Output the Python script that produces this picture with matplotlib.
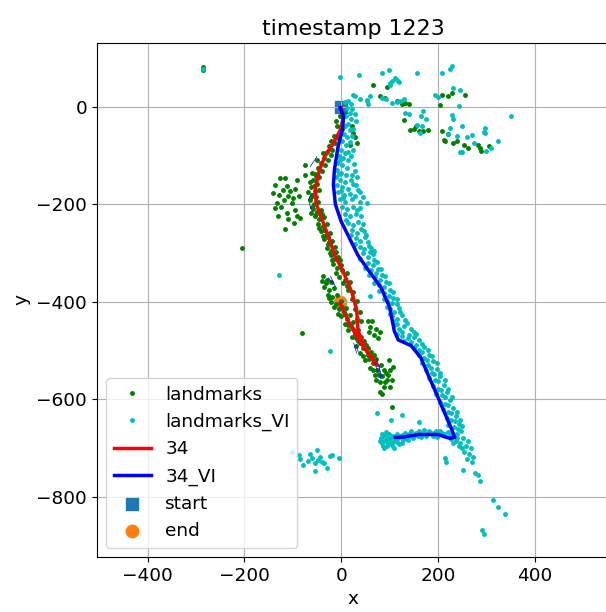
import numpy as np
import matplotlib
matplotlib.use("Agg")
import matplotlib.pyplot as plt

plt.rcParams['font.size'] = 13.3

# trajectory "34" (x, y)
traj = [(0, -2), (4, -25), (-2, -48), (-18, -78), (-33, -100), (-45, -130), (-53, -165),
        (-52, -198), (-40, -230), (-25, -270), (-13, -305), (5, -340), (22, -380), (32, -416),
        (35, -460), (50, -495), (74, -530), (55, -505), (35, -475), (15, -440), (-2, -403)]

# trajectory "34_VI"
traj_vi = [(-2, -2), (5, -20), (3, -45), (-7, -85), (-14, -130), (-16, -160), (-12, -200),
           (0, -235), (15, -265), (35, -305), (60, -340), (82, -370), (100, -410), (110, -460),
           (118, -478), (145, -490), (165, -515), (180, -550), (200, -595), (215, -630),
           (228, -660), (235, -678), (225, -680), (200, -672), (160, -672), (130, -677), (112, -678)]

# landmarks (green)
landmarks = [
    (-286, 81), (-285, 76), (-205, -290), (-81, -464), (106, -616),
    # left cluster
    (-137, -160), (-126, -146), (-116, -146), (-112, -163), (-92, -150), (-140, -177),
    (-128, -180), (-109, -184), (-100, -188), (-88, -184), (-133, -198), (-137, -208),
    (-102, -198), (-95, -211), (-112, -218), (-92, -225), (-85, -228), (-116, -250),
    (-74, -140), (-74, -119), (-120, -170), (-124, -205), (-105, -172), (-96, -168),
    (-118, -192), (-110, -230), (-98, -238), (-130, -225),
    # along the red path
    (-3, -20), (6, -15), (-8, -40), (2, -45), (-14, -60), (-6, -65), (-25, -80), (-18, -88),
    (-30, -92), (-35, -105), (-28, -110), (-42, -115), (-48, -125), (-40, -132), (-55, -138),
    (-46, -145), (-58, -150), (-50, -158), (-62, -165), (-55, -172), (-45, -170), (-60, -180),
    (-52, -186), (-65, -192), (-56, -200), (-47, -195), (-58, -210), (-50, -215), (-42, -212),
    (-55, -225), (-45, -230), (-36, -226), (-48, -240), (-38, -245), (-30, -240), (-42, -255),
    (-32, -262), (-24, -258), (-35, -272), (-26, -278), (-18, -275), (-30, -290), (-20, -295),
    (-12, -288), (-22, -305), (-14, -312), (-6, -308), (-16, -322), (-8, -330), (0, -325),
    (22, -40), (25, -54), (32, -74), (19, -78), (28, -62),
    (-37, -348), (-30, -355), (-22, -360), (-35, -370), (-25, -375), (-15, -372), (-28, -385),
    (-18, -390), (-8, -385), (-20, -400), (-10, -405), (0, -398), (-5, -415), (5, -420),
    (10, -412), (0, -430), (12, -435), (18, -428), (8, -445), (20, -450), (25, -442),
    (15, -458), (28, -465), (35, -458), (22, -472), (35, -480), (42, -472), (30, -490),
    (45, -495), (52, -488), (40, -505), (55, -510), (62, -502), (50, -520), (65, -525),
    (72, -518), (60, -535), (75, -540), (82, -530), (70, -550), (85, -552), (92, -545),
    (80, -565), (95, -560), (101, -539), (88, -575), (81, -584), (105, -560), (108, -533),
    (98, -520), (2, -335), (12, -340), (8, -355), (18, -360), (15, -375), (25, -380),
    (22, -395), (32, -398), (28, -415), (38, -420), (33, -435), (42, -440),
    (55, -440), (64, -440), (60, -452), (72, -455), (81, -461), (68, -468), (76, -475), (58, -462),
    (-10, -30), (-2, -55), (-22, -70), (-12, -75), (-38, -95), (-22, -98), (-50, -110),
    (-33, -120), (-60, -135), (-52, -142), (-65, -155), (-57, -162), (-68, -175), (-63, -185),
    (-60, -205), (-52, -220), (-62, -218), (-40, -220), (-45, -248), (-36, -252), (-38, -265),
    (-28, -268), (-28, -282), (-24, -300), (-10, -298), (-18, -315), (-2, -315), (-10, -340),
    (-4, -350), (4, -362), (12, -368), (-32, -362), (-40, -358), (-26, -392), (-14, -410),
    (2, -410), (8, -425), (-6, -425), (14, -448), (24, -455), (30, -475), (40, -485),
    (48, -480), (56, -495), (46, -512), (58, -518), (68, -510), (66, -540), (78, -550),
    (88, -540), (72, -560), (90, -565), (96, -550), (85, -588), (100, -575),
    # upper right
    (81, 21), (90, 18), (132, 8), (115, 11), (125, 6), (140, 5), (143, -47), (129, -27),
    (150, -45), (160, -50), (170, -50), (180, -48), (155, -40), (208, 25), (220, 22),
    (230, 28), (256, 25), (205, 4), (208, -50), (222, -55), (215, -71), (232, -75), (240, -70),
    (255, -78), (262, -85), (284, -78), (290, -90), (305, -81), (288, -85), (212, -68),
    (95, 40), (65, 45),
]

# landmarks_VI (cyan)
landmarks_vi = [
    (-286, 78), (-128, -345), (-24, -500), (-2, 60), (37, 66), (84, 69), (99, 76), (101, 45),
    (106, 52),
    # upper right
    (29, 21), (40, 15), (53, 14), (60, 22), (55, 5), (112, 59), (115, 55), (100, 48), (120, 50),
    (157, 69), (208, 69), (229, 83), (225, 78), (84, 18), (92, 15), (53, 11), (105, 8),
    (115, 10), (122, 12), (130, 15), (194, 25), (200, 20), (232, 38), (245, 35), (243, 1),
    (132, -13), (140, -15), (170, -9), (165, -20), (175, -25), (157, -37), (168, -40),
    (163, -54), (229, -16), (232, -25), (225, -44), (250, -40), (220, -55), (239, -61),
    (260, -62), (270, -57), (298, -44), (296, -52), (249, -93), (275, -75), (246, -92),
    (298, -54), (300, -90), (310, -85), (325, -70), (352, -20),
    # along the blue path
    (8, 10), (15, 12), (20, 5), (12, -3), (22, -5), (25, 25), (18, -12), (10, -20), (20, -25),
    (14, -35), (8, -40), (18, -48), (5, -55), (12, -62), (2, -70), (10, -78), (0, -88),
    (8, -95), (-5, -100), (4, -105), (15, -110), (-6, -115), (2, -120), (12, -125), (-8, -130),
    (0, -135), (10, -140), (-10, -145), (-2, -150), (8, -155), (20, -150), (-8, -160),
    (2, -165), (14, -168), (30, -160), (-6, -175), (5, -180), (18, -178), (40, -175),
    (-3, -190), (8, -195), (22, -190), (45, -185), (2, -205), (12, -210), (25, -205),
    (53, -198), (8, -220), (18, -225), (30, -220), (15, -238), (25, -242), (35, -236),
    (22, -252), (32, -258), (42, -250), (30, -270), (40, -275), (50, -268), (38, -288),
    (48, -292), (58, -285), (45, -300), (55, -308), (65, -302), (55, -320), (65, -325),
    (75, -318), (62, -335), (72, -340), (82, -332), (70, -350), (80, -356), (90, -348),
    (78, -365), (88, -370), (98, -362), (60, -389), (88, -382), (98, -388), (108, -380),
    (95, -398), (105, -402), (115, -395), (100, -415), (110, -420), (120, -412), (105, -430),
    (115, -436), (125, -428), (136, -444), (110, -448), (120, -455), (130, -450), (145, -455),
    (115, -465), (125, -470), (140, -468), (155, -466), (130, -480), (145, -482), (160, -478),
    (150, -495), (162, -498), (172, -492), (160, -510), (172, -515), (182, -508), (168, -525),
    (180, -530), (190, -522), (175, -540), (188, -545), (198, -538), (182, -556), (194, -560),
    (205, -552), (190, -572), (200, -578), (212, -570), (196, -588), (208, -592), (218, -585),
    (205, -605), (215, -610), (225, -602), (210, -620), (222, -625), (232, -618), (218, -638),
    (228, -642), (238, -635), (222, -652), (234, -656), (244, -650), (228, -668), (240, -672),
    (248, -665),
    (28, -15), (30, -30), (25, -45), (22, -60), (18, -72), (24, -88), (15, -92), (20, -100),
    (26, -118), (28, -132), (22, -140), (32, -145), (25, -158), (35, -170), (28, -182),
    (38, -195), (32, -212), (42, -225), (40, -208), (45, -240), (48, -255), (52, -262),
    (55, -278), (62, -290), (68, -296), (-2, -110), (-4, -138), (0, -172), (4, -188),
    (10, -232), (20, -262), (28, -282), (40, -312), (50, -330), (58, -345), (68, -362),
    (78, -378), (88, -395), (95, -410), (102, -425), (108, -440), (116, -445), (126, -462),
    (138, -475), (150, -472), (155, -488), (168, -502), (178, -520), (185, -535), (192, -548),
    (200, -562), (207, -580), (215, -595), (222, -612), (228, -628), (236, -645), (242, -660),
    (250, -655), (245, -642), (240, -625), (230, -595), (222, -578), (215, -560), (205, -545),
    (198, -525), (188, -512), (180, -498), (168, -486), (150, -462), (132, -438), (122, -420),
    (115, -405), (108, -392), (100, -375), (92, -360), (85, -345), (76, -332), (68, -315),
    (60, -298),
    # right of the turn and below
    (253, -680), (262, -685), (258, -695), (268, -700), (255, -708), (265, -712), (273, -718),
    (260, -722), (270, -728), (250, -700), (246, -690), (215, -720), (217, -728), (253, -745),
    (277, -751), (282, -756), (287, -768), (314, -806), (324, -821), (339, -836), (291, -868),
    (295, -876),
    # bottom horizontal
    (82, -680), (85, -690), (90, -675), (92, -685), (95, -695), (98, -672), (100, -682),
    (104, -690), (108, -676), (110, -685), (115, -670), (118, -680), (120, -692), (125, -674),
    (128, -684), (132, -668), (135, -678), (140, -672), (145, -665), (148, -680), (152, -670),
    (158, -675), (162, -665), (168, -672), (172, -662), (178, -670), (185, -668), (190, -675),
    (196, -664), (202, -672), (208, -668), (215, -676), (220, -666), (228, -682), (232, -690),
    (238, -685), (74, -628), (103, -642), (125, -632), (160, -647), (110, -700), (88, -700),
    (84, -672), (88, -686), (94, -680), (96, -690), (102, -676), (106, -694), (112, -678),
    (116, -688), (122, -676), (126, -690), (130, -678), (138, -684), (142, -676), (150, -676),
    (155, -668), (165, -678), (175, -676), (182, -664), (192, -668), (198, -678), (205, -664),
    (212, -670), (225, -672), (232, -675), (240, -680), (244, -695), (86, -695), (92, -666),
    (80, -686),
    # lower left
    (-102, -708), (-88, -714), (-85, -722), (-78, -734), (-64, -711), (-60, -720), (-50, -704),
    (-48, -724), (-44, -718), (-40, -728), (-54, -746), (-30, -741), (-23, -717), (-18, -714),
    (-5, -720), (-35, -730), (-55, -730), (-68, -726),
]

# short heading lines along "34"
headings = [((-64, -123), (-50, -102)), ((-68, -191), (-60, -177)), ((-66, -198), (-62, -210)),
            ((-26, -351), (-16, -365)), ((-22, -348), (-12, -368)), ((26, -485), (32, -505)),
            ((32, -488), (35, -502)), ((74, -519), (84, -553)), ((78, -530), (82, -558)),
            ((70, -525), (76, -548))]

start = (0, 0)
end = (-2, -400)

lm = np.array(landmarks)
lmv = np.array(landmarks_vi)
tr = np.array(traj)
trv = np.array(traj_vi)

fig = plt.figure(figsize=(6.06, 6.12), dpi=100)
ax = fig.add_axes([0.160, 0.090, 0.845, 0.840])

ax.plot(lm[:, 0], lm[:, 1], 'o', color='g', markersize=2.5, label='landmarks')
ax.plot(lmv[:, 0], lmv[:, 1], 'o', color='c', markersize=2.5, label='landmarks_VI')
ax.plot(tr[:, 0], tr[:, 1], 'r-', lw=2.5, label='34')
ax.plot(trv[:, 0], trv[:, 1], 'b-', lw=2.5, label='34_VI')
for (x0, y0), (x1, y1) in headings:
    ax.plot([x0, x1], [y0, y1], color='b', lw=0.5)
ax.scatter([start[0]], [start[1]], marker='s', s=80, color='C0', label='start')
ax.scatter([end[0]], [end[1]], marker='o', s=80, color='C1', label='end')

ax.set_xlim(-505, 554)
ax.set_ylim(-923, 131)
ax.set_xticks([-400, -200, 0, 200, 400])
ax.set_yticks([0, -200, -400, -600, -800])
ax.grid(True)
ax.set_xlabel('x')
ax.set_ylabel('y')
ax.set_title('timestamp 1223')
ax.legend(loc='lower left')

fig.savefig('out.png', dpi=100)
